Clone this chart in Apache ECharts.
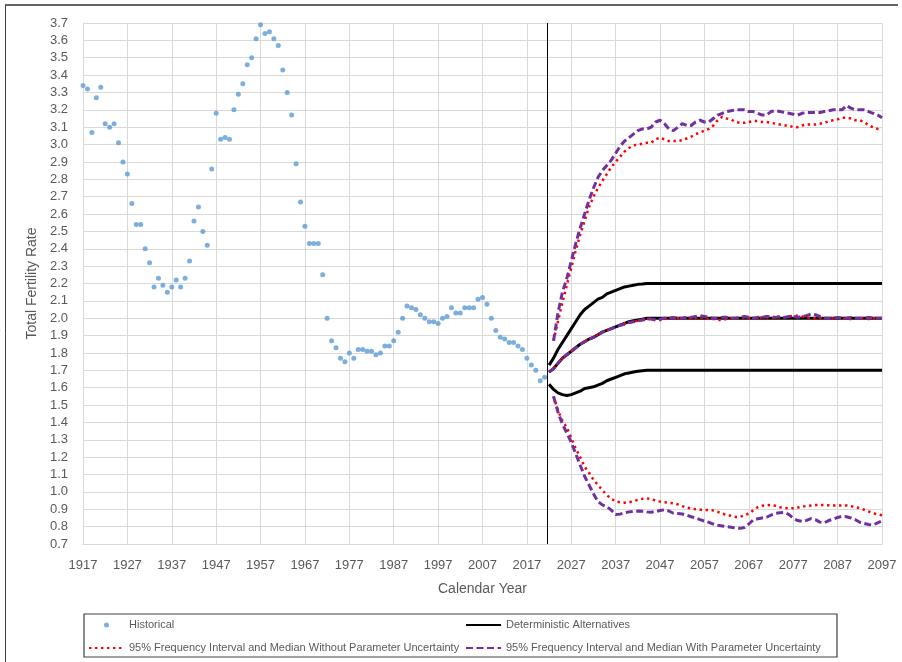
<!DOCTYPE html>
<html><head><meta charset="utf-8">
<script src="https://cdn.jsdelivr.net/npm/echarts/dist/echarts.min.js"></script>
<style>html,body{margin:0;padding:0;background:#fff}#chart{width:902px;height:662px}</style>
</head><body><div id="chart"></div>
<script>
// ---------- DATA ----------
const baseYear = 1917;          // first x tick
const lastYear = 2097;          // last x tick
const histStartYear = 1917;
const historical = [
  3.34,3.32,3.07,3.27,3.33,3.12,3.10,3.12,3.01,2.90,
  2.83,2.66,2.54,2.54,2.40,2.32,2.18,2.23,2.19,2.15,
  2.18,2.22,2.18,2.23,2.33,2.56,2.64,2.50,2.42,2.86,
  3.18,3.03,3.04,3.03,3.20,3.29,3.35,3.46,3.50,3.61,
  3.69,3.64,3.65,3.61,3.57,3.43,3.30,3.17,2.89,2.67,
  2.53,2.43,2.43,2.43,2.25,2.00,1.87,1.83,1.77,1.75,
  1.80,1.77,1.82,1.82,1.81,1.81,1.79,1.80,1.84,1.84,
  1.87,1.92,2.00,2.07,2.06,2.05,2.02,2.00,1.98,1.98,
  1.97,2.00,2.01,2.06,2.03,2.03,2.06,2.06,2.06,2.11,
  2.12,2.08,2.00,1.93,1.89,1.88,1.86,1.86,1.84,1.82,
  1.77,1.73,1.70,1.64,1.66
];
const projectionDividerYear = 2021.6;

const detStartYear = 2022;
const detHigh = [
  1.73,1.77,1.82,1.86,1.90,1.94,1.98,2.02,2.05,2.07,
  2.09,2.11,2.12,2.14,2.15,2.16,2.17,2.18,2.185,2.19,
  2.195,2.197,2.2,2.2,2.2,2.2,2.2,2.2,2.2,2.2,
  2.2,2.2,2.2,2.2,2.2,2.2,2.2,2.2,2.2,2.2,
  2.2,2.2,2.2,2.2,2.2,2.2,2.2,2.2,2.2,2.2,
  2.2,2.2,2.2,2.2,2.2,2.2,2.2,2.2,2.2,2.2,
  2.2,2.2,2.2,2.2,2.2,2.2,2.2,2.2,2.2,2.2,
  2.2,2.2,2.2,2.2,2.2,2.2
];
const detInter = [
  1.69,1.71,1.74,1.77,1.79,1.81,1.83,1.85,1.865,1.88,
  1.89,1.905,1.92,1.93,1.94,1.95,1.96,1.97,1.98,1.985,
  1.99,1.995,2.0,2.0,2.0,2.0,2.0,2.0,2.0,2.0,
  2.0,2.0,2.0,2.0,2.0,2.0,2.0,2.0,2.0,2.0,
  2.0,2.0,2.0,2.0,2.0,2.0,2.0,2.0,2.0,2.0,
  2.0,2.0,2.0,2.0,2.0,2.0,2.0,2.0,2.0,2.0,
  2.0,2.0,2.0,2.0,2.0,2.0,2.0,2.0,2.0,2.0,
  2.0,2.0,2.0,2.0,2.0,2.0
];
const detLow = [
  1.62,1.59,1.57,1.56,1.555,1.56,1.57,1.58,1.595,1.60,
  1.605,1.615,1.625,1.64,1.65,1.66,1.67,1.68,1.685,1.69,
  1.695,1.698,1.7,1.7,1.7,1.7,1.7,1.7,1.7,1.7,
  1.7,1.7,1.7,1.7,1.7,1.7,1.7,1.7,1.7,1.7,
  1.7,1.7,1.7,1.7,1.7,1.7,1.7,1.7,1.7,1.7,
  1.7,1.7,1.7,1.7,1.7,1.7,1.7,1.7,1.7,1.7,
  1.7,1.7,1.7,1.7,1.7,1.7,1.7,1.7,1.7,1.7,
  1.7,1.7,1.7,1.7,1.7,1.7
];

const medStartYear = 2022;
const medNoParam = [
  1.69,1.71,1.74,1.77,1.79,1.81,1.83,1.85,1.865,1.88,
  1.89,1.905,1.92,1.93,1.94,1.95,1.96,1.97,1.975,1.98,
  1.985,1.99,1.995,
  1.995,1.99,1.99,1.995,2.0,2.0,2.0,2.0,2.005,2.0,
  2.0,2.005,2.0,1.995,1.995,1.99,1.99,1.995,2.0,2.0,
  2.0,2.005,2.0,2.0,2.0,2.005,2.005,2.0,2.005,2.005,
  2.005,2.01,2.015,2.015,2.01,2.005,2.0,2.0,2.0,2.0,
  2.0,2.0,2.005,2.0,1.995,1.995,2.0,2.0,2.0,1.995,
  2.0,2.0,2.0
];
const medWithParam = [
  1.69,1.71,1.74,1.77,1.79,1.81,1.83,1.85,1.865,1.88,
  1.89,1.905,1.92,1.93,1.94,1.95,1.96,1.965,1.975,1.98,
  1.985,1.99,1.995,
  1.995,1.99,1.995,2.0,2.0,2.005,2.0,2.0,2.005,2.005,
  2.01,2.015,2.01,2.005,2.0,2.0,2.005,2.005,2.0,2.0,
  2.005,2.01,2.005,2.0,2.005,2.005,2.01,2.01,2.005,2.01,
  2.005,2.01,2.01,2.005,2.01,2.015,2.025,2.02,2.01,2.0,
  2.0,2.0,2.005,2.0,2.0,2.005,2.0,2.0,2.0,2.005,
  2.0,2.0,2.0
];

const bandStartYear = 2023;
const upperNoParam = [
  1.87,1.98,2.09,2.19,2.29,2.39,2.48,2.56,2.64,2.70,
  2.75,2.79,2.83,2.87,2.90,2.93,2.96,2.98,2.995,3.00,
  3.005,3.01,3.01,3.03,3.04,3.03,3.02,3.02,3.02,3.025,
  3.035,3.045,3.06,3.07,3.08,3.09,3.11,3.14,3.16,3.15,
  3.145,3.13,3.125,3.125,3.13,3.135,3.135,3.13,3.13,3.125,
  3.12,3.115,3.11,3.11,3.10,3.10,3.11,3.115,3.115,3.115,
  3.12,3.125,3.135,3.14,3.145,3.155,3.155,3.15,3.14,3.14,
  3.13,3.11,3.10,3.09,3.085
];
const lowerNoParam = [
  1.55,1.47,1.41,1.37,1.31,1.25,1.20,1.145,1.11,1.07,
  1.04,1.01,0.982,0.96,0.946,0.94,0.938,0.94,0.947,0.954,
  0.96,0.963,0.958,0.95,0.944,0.94,0.937,0.935,0.928,0.918,
  0.91,0.905,0.9,0.897,0.896,0.895,0.893,0.885,0.875,0.868,
  0.862,0.856,0.856,0.865,0.875,0.895,0.912,0.92,0.923,0.925,
  0.92,0.912,0.908,0.906,0.906,0.91,0.915,0.919,0.921,0.924,
  0.925,0.924,0.923,0.922,0.922,0.922,0.922,0.918,0.912,0.906,
  0.897,0.887,0.877,0.871,0.866
];
const upperWithParam = [
  1.87,2.03,2.15,2.23,2.33,2.43,2.52,2.60,2.68,2.75,
  2.81,2.85,2.88,2.91,2.95,2.99,3.02,3.04,3.06,3.08,
  3.09,3.09,3.10,3.13,3.14,3.12,3.09,3.08,3.10,3.12,
  3.11,3.11,3.13,3.14,3.13,3.13,3.15,3.17,3.18,3.19,
  3.195,3.20,3.20,3.20,3.19,3.19,3.18,3.17,3.17,3.19,
  3.195,3.19,3.185,3.18,3.175,3.17,3.18,3.185,3.185,3.185,
  3.185,3.19,3.195,3.20,3.20,3.20,3.225,3.21,3.20,3.20,
  3.20,3.19,3.18,3.17,3.155
];
const lowerWithParam = [
  1.55,1.46,1.39,1.34,1.285,1.22,1.155,1.09,1.04,0.99,
  0.945,0.925,0.915,0.895,0.87,0.872,0.88,0.885,0.888,0.89,
  0.888,0.885,0.883,0.887,0.893,0.897,0.89,0.877,0.875,0.873,
  0.866,0.857,0.85,0.84,0.832,0.825,0.815,0.808,0.804,0.80,
  0.797,0.792,0.79,0.795,0.815,0.839,0.845,0.85,0.854,0.866,
  0.876,0.88,0.881,0.87,0.848,0.835,0.83,0.836,0.846,0.84,
  0.826,0.822,0.835,0.843,0.853,0.86,0.857,0.85,0.84,0.825,
  0.818,0.812,0.81,0.822,0.833
];

const yMin = 0.7, yMax = 3.7, yStep = 0.1, xStep = 10;

const NAME_HIST = 'Historical';
const NAME_DET = 'Deterministic Alternatives';
const NAME_NOPU = '95% Frequency Interval and Median Without Parameter Uncertainty';
const NAME_PU = '95% Frequency Interval and Median With Parameter Uncertainty';

// ---------- CHART ----------
const FONT = '"Liberation Sans", Arial, sans-serif';
const TXT = '#595959';
const pairs = (start, vals) => vals.map((v, i) => [start + i - baseYear, v]);

function lineSeries(name, start, vals, color, width, type, z) {
  return {
    name, type: 'line', data: pairs(start, vals),
    symbol: 'none', showSymbol: false, smooth: false, z: z,
    lineStyle: { color, width, type, cap: 'butt' },
    itemStyle: { color },
    emphasis: { disabled: true }, silent: true
  };
}

const dotted = [2.4, 3.6];
const dashed = [7, 3.5];
const lineItem = name => ({ name, itemStyle: { opacity: 0 } });

const legendBase = {
  top: 618, orient: 'vertical', padding: 0, itemGap: 9,
  itemWidth: 35, itemHeight: 5, selectedMode: false,
  textStyle: { color: TXT, fontSize: 11, fontFamily: FONT, lineHeight: 14 }
};

const option = {
  animation: false,
  backgroundColor: '#fff',
  grid: { left: 83, right: 20, top: 23, bottom: 118, containLabel: false },
  xAxis: {
    type: 'value', min: 0, max: lastYear - baseYear, interval: xStep,
    name: 'Calendar Year', nameLocation: 'middle', nameGap: 38,
    nameTextStyle: { color: TXT, fontSize: 14, fontFamily: FONT },
    axisLine: { show: true, lineStyle: { color: '#d9d9d9', width: 1 } },
    axisTick: { show: false },
    axisLabel: { color: TXT, fontSize: 13, fontFamily: FONT, margin: 15,
      showMinLabel: true, showMaxLabel: true,
      formatter: v => String(Math.round(v + baseYear)) },
    splitLine: { show: true, lineStyle: { color: '#d9d9d9', width: 1 } }
  },
  yAxis: {
    type: 'value', min: yMin, max: yMax, interval: yStep,
    name: 'Total Fertility Rate', nameLocation: 'middle', nameGap: 37,
    nameTextStyle: { color: TXT, fontSize: 14, fontFamily: FONT },
    axisLine: { show: true, lineStyle: { color: '#d9d9d9', width: 1 } },
    axisTick: { show: false },
    axisLabel: { color: TXT, fontSize: 13, fontFamily: FONT, margin: 15,
      showMinLabel: true, showMaxLabel: true,
      formatter: v => v.toFixed(1) },
    splitLine: { show: true, lineStyle: { color: '#d9d9d9', width: 1 } }
  },
  legend: [
    Object.assign({}, legendBase, { left: 88, data: [NAME_HIST, lineItem(NAME_NOPU)] }),
    Object.assign({}, legendBase, { left: 465, data: [lineItem(NAME_DET), lineItem(NAME_PU)] })
  ],
  graphic: [
    { type: 'rect', shape: { x: 84, y: 614, width: 753, height: 43 },
      style: { fill: 'none', stroke: '#404040', lineWidth: 1.2 }, silent: true },
    { type: 'line', shape: { x1: 5, y1: 5, x2: 898, y2: 5 },
      style: { stroke: '#303030', lineWidth: 1.5 }, silent: true },
    { type: 'line', shape: { x1: 5.5, y1: 5, x2: 5.5, y2: 662 },
      style: { stroke: '#404040', lineWidth: 1 }, silent: true }
  ],
  series: [
    {
      name: NAME_HIST, type: 'scatter', data: pairs(histStartYear, historical),
      symbol: 'circle', symbolSize: 5, itemStyle: { color: '#5b9bd5' }, z: 3,
      silent: true,
      markLine: {
        silent: true, symbol: 'none', label: { show: false },
        lineStyle: { color: '#000', width: 1, type: 'solid' },
        data: [{ xAxis: projectionDividerYear - baseYear }]
      }
    },
    lineSeries(NAME_DET, detStartYear, detHigh, '#000000', 3, 'solid', 4),
    lineSeries(NAME_DET, detStartYear, detInter, '#000000', 3, 'solid', 4),
    lineSeries(NAME_DET, detStartYear, detLow, '#000000', 3, 'solid', 4),
    lineSeries(NAME_NOPU, bandStartYear, upperNoParam, '#ff0000', 2.5, dotted, 5),
    lineSeries(NAME_NOPU, medStartYear, medNoParam, '#ff0000', 2.5, dotted, 5),
    lineSeries(NAME_NOPU, bandStartYear, lowerNoParam, '#ff0000', 2.5, dotted, 5),
    lineSeries(NAME_PU, bandStartYear, upperWithParam, '#7030a0', 3, dashed, 6),
    lineSeries(NAME_PU, medStartYear, medWithParam, '#7030a0', 3, dashed, 6),
    lineSeries(NAME_PU, bandStartYear, lowerWithParam, '#7030a0', 3, dashed, 6)
  ]
};

const chart = echarts.init(document.getElementById('chart'), null, { renderer: 'canvas' });
chart.setOption(option);
</script>
</body></html>
